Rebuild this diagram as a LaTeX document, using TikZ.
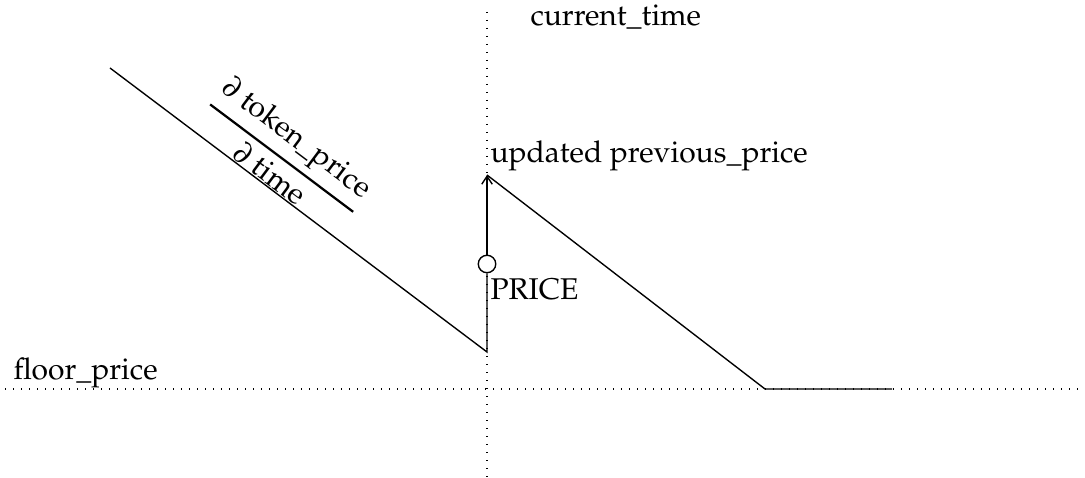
\documentclass[tikz,border=0pt]{standalone}
\usepackage{amsmath}
\usepackage[T1]{fontenc}
\usepackage{mathpazo}
\usepackage{tikz}
\usetikzlibrary{arrows.meta}

\begin{document}
\begin{tikzpicture}[
 x=0.4pt,y=-0.4pt,
 font=\large,
 guide/.style={line width=0.5pt,dash pattern=on 0.5pt off 2.7pt},
 curve/.style={line width=0.55pt},
 arr/.style={curve,-{Straight Barb[length=3.2pt,width=4.2pt]}},
 circ/.style={circle,draw,fill=white,line width=0.55pt,inner sep=0pt,minimum size=7pt},
 lbl/.style={inner sep=0pt,anchor=base west}
]
\useasboundingbox (0,0) rectangle (1085,478);
% guide lines
\coordinate (top) at (487,12);
\coordinate (bottom) at (487,478);
\coordinate (west) at (5,389);
\coordinate (east) at (1085,389);
\draw[guide] (top) -- (bottom);
\draw[guide] (west) -- (east);
% price curve
\coordinate (start) at (110,68);
\coordinate (drop) at (487,352);
\coordinate (prev) at (487,175);
\coordinate (floor) at (765,389);
\coordinate (end) at (892,389);
\node[circ] (price) at (487,264) {};
\draw[curve] (start) -- (drop) -- (price);
\draw[arr] (price) -- (prev);
\draw[curve] (prev) -- (floor) -- (end);
% labels
\node[lbl] (ct) at (530,26) {current\_time};
\node[lbl] (upd) at (490,163) {updated previous\_price};
\node[lbl] (pl) at (490,300) {PRICE};
\node[lbl] (fl) at (13,380) {floor\_price};
\node[rotate=-36.9] (slope) at (284,155) {$\genfrac{}{}{0.9pt}{0}{\partial\ \text{token\_price}}{\partial\ \text{time}}$};
\end{tikzpicture}
\end{document}
